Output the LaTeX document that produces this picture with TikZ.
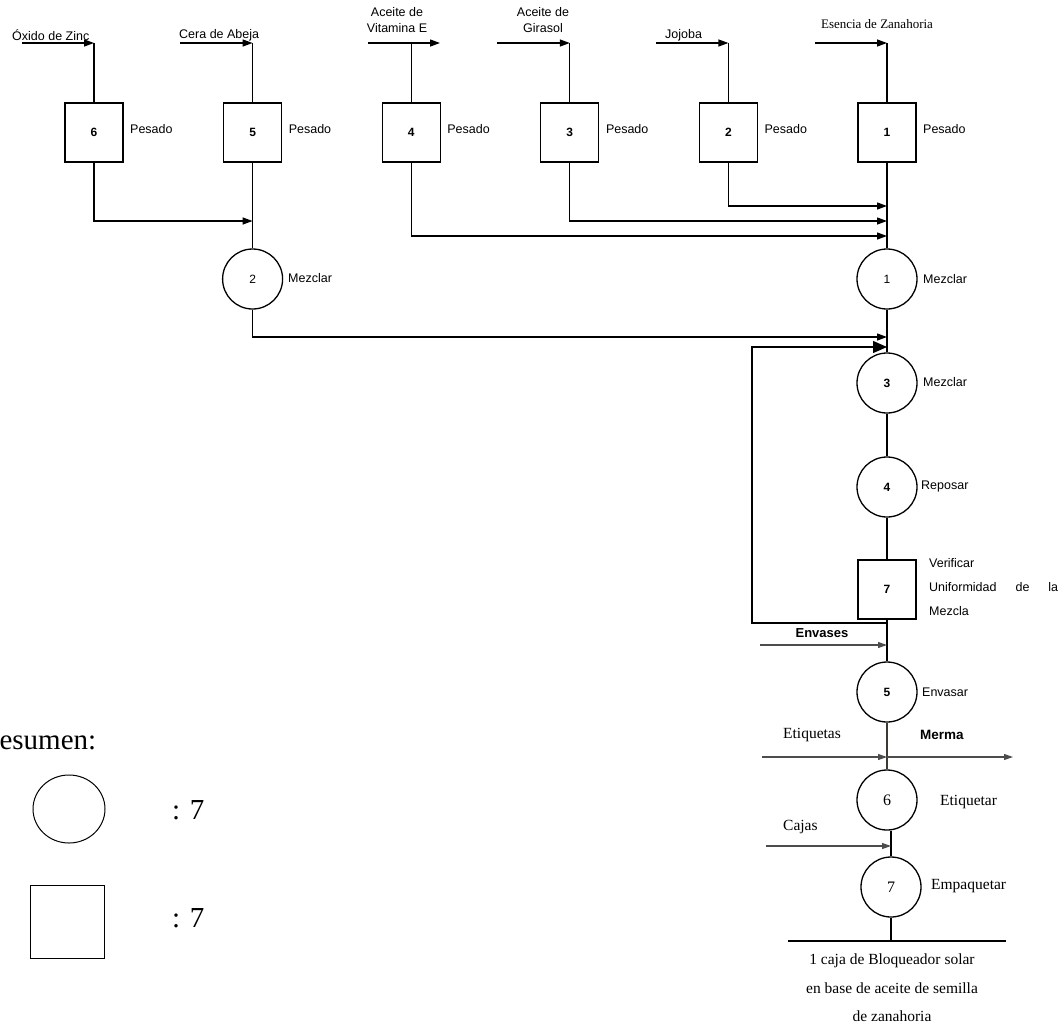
\documentclass[tikz,border=0pt]{standalone}
\usepackage{fontspec}
\setmainfont{Liberation Serif}
\newfontfamily\arial{Liberation Sans}
\usetikzlibrary{arrows.meta}
\begin{document}
\begin{tikzpicture}[x=1pt,y=-1pt,
 flow/.style={line width=1.3pt, draw=black},
 arr/.style={flow, -{Triangle[length=10pt,width=7pt]}},
 bigarr/.style={flow, -{Triangle[length=14pt,width=12pt]}},
 garr/.style={line width=1.1pt, draw=black!70, -{Triangle[length=9pt,width=6pt]}},
 opbox/.style={draw, line width=1.3pt, minimum width=58pt, minimum height=59pt, inner sep=0pt, font=\arial\bfseries\fontsize{12}{14}\selectfont},
 opcirc/.style={draw, circle, line width=1.3pt, minimum size=60pt, inner sep=0pt, font=\arial\fontsize{12}{14}\selectfont},
 tcirc/.style={draw, circle, line width=1.3pt, minimum size=60pt, inner sep=0pt, font=\fontsize{16}{18}\selectfont},
 lbl/.style={font=\arial\fontsize{12.5}{15}\selectfont, inner sep=0pt},
 blbl/.style={font=\arial\bfseries\fontsize{13}{15}\selectfont, inner sep=0pt},
 tlbl/.style={font=\fontsize{15.5}{18}\selectfont, inner sep=0pt},
 leg/.style={font=\fontsize{29}{34}\selectfont, inner sep=0pt},
]
\useasboundingbox (0,0) rectangle (1063,1029);

% ---------- top row: weighing boxes ----------
\foreach \i/\x in {6/94,5/252.6,4/411.2,3/569.8,2/728.4,1/887}{
  \node[opbox] (b\i) at (\x,132.5) {\i};
  \node[lbl, anchor=west] (p\i) at (\x+36,129) {Pesado};
  \coordinate (t\i) at (\x,43);
}

% input start points
\coordinate (s6) at (22,43);
\coordinate (s5) at (180,43);
\coordinate (s4) at (368,43);
\coordinate (e4) at (440,43);
\coordinate (s3) at (497,43);
\coordinate (s2) at (656,43);
\coordinate (s1) at (815,43);

\draw[arr] (s6) -- (t6);
\draw[arr] (s5) -- (t5);
\draw[arr] (s4) -- (e4);
\draw[arr] (s3) -- (t3);
\draw[arr] (s2) -- (t2);
\draw[arr] (s1) -- (t1);
\foreach \i in {1,...,6}{ \draw[flow] (t\i) -- (b\i.north); }

% input labels
\node[lbl, anchor=west] (l6) at (12,35) {Óxido de Zinc};
\node[lbl, anchor=west] (l5) at (179,35) {Cera de Abeja};
\node[lbl, align=center, font=\arial\fontsize{12.5}{16}\selectfont] (l4) at (397,20) {Aceite de\\Vitamina E};
\node[lbl, align=center, font=\arial\fontsize{12.5}{16}\selectfont] (l3) at (543,20) {Aceite de\\Girasol};
\node[lbl, anchor=west] (l2) at (665,35) {Jojoba};
\node[font=\fontsize{13}{15}\selectfont, inner sep=0pt] (l1) at (877,24) {Esencia de Zanahoria};

% ---------- process circles & check box ----------
\node[opcirc] (c2) at (252.6,279) {2};
\node[opcirc] (c1) at (887,279) {1};
\node[opcirc, font=\arial\bfseries\fontsize{12}{14}\selectfont] (c3) at (887,383) {3};
\node[opcirc, font=\arial\bfseries\fontsize{12}{14}\selectfont] (c4) at (887,487) {4};
\node[opbox] (b7) at (887,589.5) {7};
\node[opcirc, font=\arial\bfseries\fontsize{12}{14}\selectfont] (c5) at (887,692) {5};
\node[tcirc] (c6) at (887,800) {6};
\node[tcirc] (c7) at (891,887) {7};

\node[lbl, anchor=west] (m2) at (288,278) {Mezclar};
\node[lbl, anchor=west] (m1) at (923,279) {Mezclar};
\node[lbl, anchor=west] (m3) at (923,382) {Mezclar};
\node[lbl, anchor=west] (m4) at (921,486) {Reposar};
\node[lbl, anchor=west] (v1) at (929,563) {Verificar};
\node[lbl, anchor=west] (v2) at (929,587) {\makebox[129pt][s]{Uniformidad de la}};
\node[lbl, anchor=west] (v3) at (929,611) {Mezcla};
\node[lbl, anchor=west] (m5) at (922,692) {Envasar};
\node[tlbl, anchor=west] (m6) at (940,802) {Etiquetar};
\node[tlbl, anchor=west] (m7) at (931,886) {Empaquetar};

% ---------- join arrows ----------
\coordinate (j6) at (252.6,221);
\coordinate (j2) at (887,206);
\coordinate (j3) at (887,221);
\coordinate (j4) at (887,236);
\coordinate (j7) at (887,337);
\coordinate (j8) at (887,347);
\coordinate (fb) at (887,623);
\coordinate (fbx) at (752,347);

\draw[arr] (b6.south) |- (j6);
\draw[arr] (b2.south) |- (j2);
\draw[arr] (b3.south) |- (j3);
\draw[arr] (b4.south) |- (j4);
\draw[arr] (c2.south) |- (j7);
\draw[bigarr] (fb) -| (fbx) -- (j8);

% ---------- main vertical lines ----------
\draw[flow] (b5.south) -- (c2.north);
\draw[flow] (b1.south) -- (c1.north);
\draw[flow] (c1.south) -- (c3.north);
\draw[flow] (c3.south) -- (c4.north);
\draw[flow] (c4.south) -- (b7.north);
\draw[flow] (b7.south) -- (c5.north);
\draw[flow, draw=black!80!yellow!60!black] (c5.south) -- (c6.north);
\draw[flow] (c7.north |- c6.south) -- (c7.north);
\coordinate (base) at (891,941);
\coordinate (bl) at (788,941);
\coordinate (br) at (1006,941);
\draw[flow] (c7.south) -- (base);
\draw[flow] (bl) -- (br);

% ---------- side inputs / outputs ----------
\coordinate (envs) at (760,645);
\coordinate (enve) at (887,645);
\coordinate (etqs) at (762,757);
\coordinate (etqe) at (887,757);
\coordinate (merm) at (1013,757);
\coordinate (cajs) at (766,846);
\coordinate (caje) at (891,846);
\draw[garr] (envs) -- (enve);
\draw[garr] (etqs) -- (etqe);
\draw[garr] (etqe) -- (merm);
\draw[garr] (cajs) -- (caje);

\node[blbl] (envt) at (822,633) {Envases};
\node[tlbl, anchor=west] (etqt) at (783,735) {Etiquetas};
\node[blbl, font=\arial\bfseries\fontsize{13.5}{15}\selectfont, anchor=west] (mert) at (920,735) {Merma};
\node[tlbl, anchor=west] (cajt) at (783,827) {Cajas};

\node[tlbl, align=center, font=\fontsize{15.5}{28.5}\selectfont] (prod) at (892,988) {1 caja de Bloqueador solar\\en base de aceite de semilla\\de zanahoria};

% ---------- summary ----------
\node[leg, anchor=base west] (res) at (-20,749) {Resumen:};
\draw[line width=1pt] (69,809) ellipse [x radius=36, y radius=34];
\node[leg, anchor=west] (n1) at (172,810) {: 7};
\draw[line width=1pt] (30,885) rectangle (104,958);
\node[leg, anchor=west] (n2) at (172,918) {: 7};
\end{tikzpicture}
\end{document}
